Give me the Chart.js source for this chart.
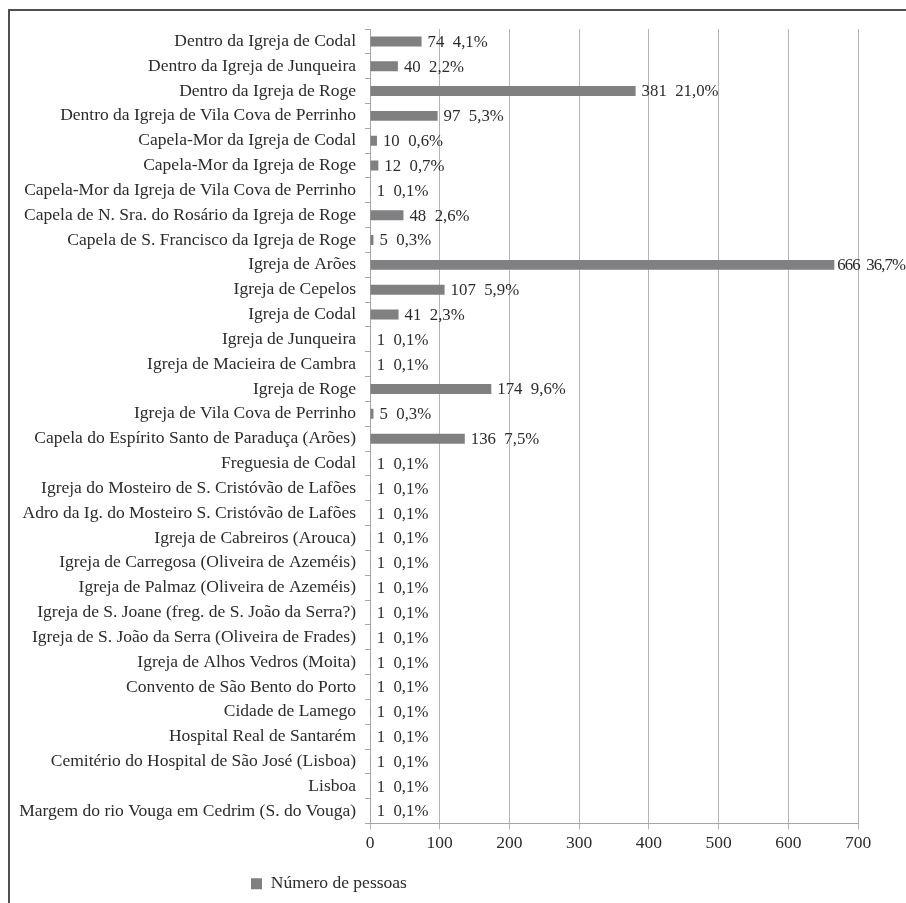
<!DOCTYPE html>
<html>
<head>
<meta charset="utf-8">
<script src="https://cdn.jsdelivr.net/npm/chart.js@4/dist/chart.umd.min.js"></script>
<style>
  html, body { margin: 0; padding: 0; background: #fff; overflow: hidden; }
  #wrap { position: relative; width: 906px; height: 903px; }
  #frame { position: absolute; left: 8px; top: 9px; width: 960px; height: 960px;
           border-top: 2px solid #505050; border-left: 2px solid #505050; pointer-events: none; }
  canvas { position: absolute; left: 0; top: 0; }
</style>
</head>
<body>
<div id="wrap">
  <canvas id="c" width="906" height="903"></canvas>
  <div id="frame"></div>
</div>
<script>
const categories = [
  "Dentro da Igreja de Codal",
  "Dentro da Igreja de Junqueira",
  "Dentro da Igreja de Roge",
  "Dentro da Igreja de Vila Cova de Perrinho",
  "Capela-Mor da Igreja de Codal",
  "Capela-Mor da Igreja de Roge",
  "Capela-Mor da Igreja de Vila Cova de Perrinho",
  "Capela de N. Sra. do Rosário da Igreja de Roge",
  "Capela de S. Francisco da Igreja de Roge",
  "Igreja de Arões",
  "Igreja de Cepelos",
  "Igreja de Codal",
  "Igreja de Junqueira",
  "Igreja de Macieira de Cambra",
  "Igreja de Roge",
  "Igreja de Vila Cova de Perrinho",
  "Capela do Espírito Santo de Paraduça (Arões)",
  "Freguesia de Codal",
  "Igreja do Mosteiro de S. Cristóvão de Lafões",
  "Adro da Ig. do Mosteiro S. Cristóvão de Lafões",
  "Igreja de Cabreiros (Arouca)",
  "Igreja de Carregosa (Oliveira de Azeméis)",
  "Igreja de Palmaz (Oliveira de Azeméis)",
  "Igreja de S. Joane (freg. de S. João da Serra?)",
  "Igreja de S. João da Serra (Oliveira de Frades)",
  "Igreja de Alhos Vedros (Moita)",
  "Convento de São Bento do Porto",
  "Cidade de Lamego",
  "Hospital Real de Santarém",
  "Cemitério do Hospital de São José (Lisboa)",
  "Lisboa",
  "Margem do rio Vouga em Cedrim (S. do Vouga)"
];
const counts = [74, 40, 381, 97, 10, 12, 1, 48, 5, 666, 107, 41, 1, 1, 174, 5, 136,
  1, 1, 1, 1, 1, 1, 1, 1, 1, 1, 1, 1, 1, 1, 1];
const percents = ["4,1%", "2,2%", "21,0%", "5,3%", "0,6%", "0,7%", "0,1%", "2,6%", "0,3%", "36,7%",
  "5,9%", "2,3%", "0,1%", "0,1%", "9,6%", "0,3%", "7,5%",
  "0,1%", "0,1%", "0,1%", "0,1%", "0,1%", "0,1%", "0,1%", "0,1%", "0,1%", "0,1%", "0,1%", "0,1%", "0,1%", "0,1%", "0,1%"];
const xTicks = [0, 100, 200, 300, 400, 500, 600, 700];
const seriesName = "Número de pessoas";

const FONT = "'Liberation Serif', 'Times New Roman', serif";
const FS = 17.5;
const LFS = 16.8;
const TEXT = "#2b2b2b";
const BAR = "#808082";

const valueLabels = {
  id: 'valueLabels',
  afterDatasetsDraw(chart) {
    const ctx = chart.ctx;
    const meta = chart.getDatasetMeta(0);
    ctx.save();
    ctx.font = LFS + "px " + FONT;
    ctx.fillStyle = TEXT;
    ctx.textAlign = 'left';
    ctx.textBaseline = 'middle';
    meta.data.forEach((bar, i) => {
      const txt = counts[i] + "  " + percents[i];
      const w = ctx.measureText(txt).width;
      let x = bar.x + 6;
      const room = chart.width - 1;
      if (x + w > room) {
        x = bar.x + 3;
        const avail = room - x;
        const sp = Math.max(-1.2, (avail - w) / txt.length);
        ctx.letterSpacing = sp.toFixed(2) + "px";
        ctx.fillText(txt, x, bar.y + 1);
        ctx.letterSpacing = "0px";
      } else {
        ctx.fillText(txt, x, bar.y + 1);
      }
    });
    ctx.restore();
  }
};

const legendPlace = {
  id: 'legendPlace',
  afterLayout(chart) {
    const lg = chart.legend;
    const w = lg.right - lg.left;
    const h = lg.bottom - lg.top;
    lg.left = 247; lg.right = 247 + w;
    lg.top = 871; lg.bottom = 871 + h;
  }
};

new Chart(document.getElementById('c'), {
  type: 'bar',
  data: {
    labels: categories,
    datasets: [{
      label: seriesName,
      data: counts,
      backgroundColor: BAR,
      borderWidth: 0,
      categoryPercentage: 1.0,
      barPercentage: 0.4
    }]
  },
  options: {
    indexAxis: 'y',
    responsive: false,
    animation: false,
    devicePixelRatio: 1,
    layout: { padding: { left: 0, right: 48, top: 29, bottom: 0 } },
    plugins: {
      legend: {
        position: 'bottom',
        align: 'start',
        labels: {
          font: { family: FONT, size: FS },
          color: TEXT,
          boxWidth: 11,
          boxHeight: 11,
          padding: 4
        }
      },
      tooltip: { enabled: false }
    },
    scales: {
      x: {
        min: 0, max: 700,
        afterBuildTicks(scale) { scale.ticks = xTicks.map(v => ({ value: v })); },
        afterFit(scale) { scale.height = 48; },
        ticks: { font: { family: FONT, size: FS }, color: TEXT, padding: 3 },
        grid: { color: '#b4b4b4', lineWidth: 1, tickLength: 6, drawTicks: true },
        border: { display: true, color: '#a6a6a6', width: 1 }
      },
      y: {
        afterFit(scale) { scale.width = 370; },
        ticks: { font: { family: FONT, size: FS }, color: TEXT, padding: 9, autoSkip: false },
        grid: { offset: true, drawOnChartArea: false, color: '#a6a6a6', tickLength: 5 },
        border: { display: true, color: '#a6a6a6', width: 1 }
      }
    }
  },
  plugins: [valueLabels, legendPlace]
});
</script>
</body>
</html>
